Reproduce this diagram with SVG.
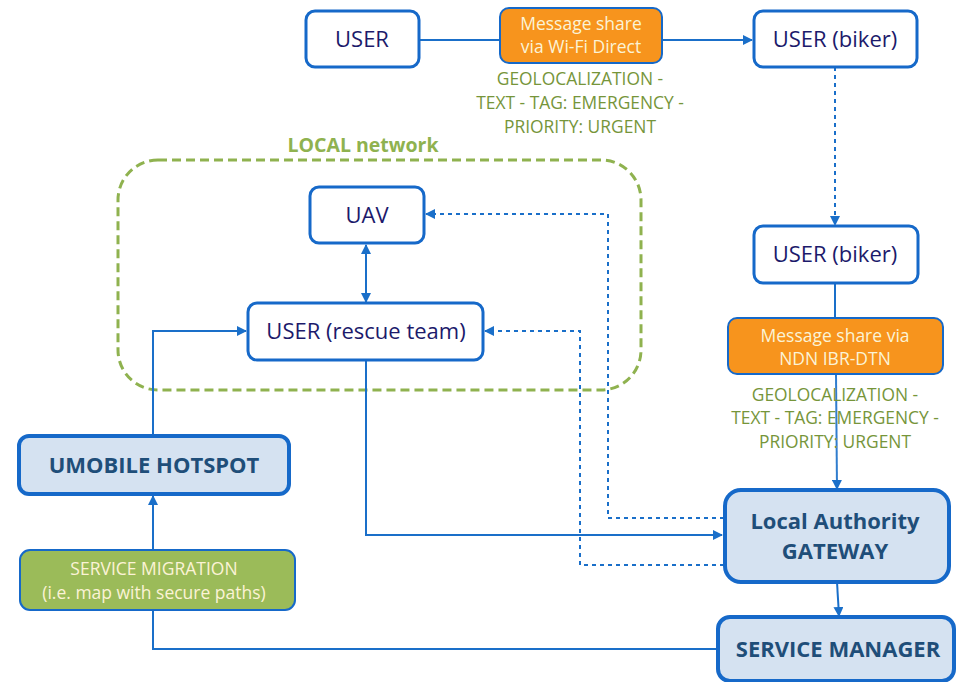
<svg xmlns="http://www.w3.org/2000/svg" width="958" height="682" viewBox="0 0 958 682">
<defs>
<marker id="ah" viewBox="0 0 10 10" refX="9" refY="5" markerWidth="5" markerHeight="5" orient="auto-start-reverse" markerUnits="strokeWidth">
<path d="M0,0 L10,5 L0,10 z" fill="#1a6fc9"/>
</marker>
<style>
.node{fill:#fff;stroke:#1669c9;stroke-width:3}
.big{fill:#d5e2f1;stroke:#1669c9;stroke-width:4}
.orange{fill:#f7941d;stroke:#1669c9;stroke-width:2}
.green{fill:#9bbb59;stroke:#1669c9;stroke-width:2}
.t{font-family:"Open Sans","Liberation Sans",sans-serif;font-size:22px;fill:#1c1a6b;text-anchor:middle}
.b{font-family:"Open Sans","Liberation Sans",sans-serif;font-size:22px;font-weight:bold;fill:#1f4e79;text-anchor:middle}
.w{font-family:"Open Sans","Liberation Sans",sans-serif;font-size:17.5px;fill:#fbf3d6;text-anchor:middle}
.g{font-family:"Open Sans","Liberation Sans",sans-serif;font-size:17.4px;fill:#76953a;text-anchor:middle}
.c{fill:none;stroke:#1a6fc9;stroke-width:2}
.d{fill:none;stroke:#1a6fc9;stroke-width:2;stroke-dasharray:4 4}
</style>
</defs>
<g id="local-network">
<rect x="118" y="160" width="523" height="230" rx="40" fill="none" stroke="#8fb24f" stroke-width="3" stroke-dasharray="9 5"/>
<text x="363" y="152" font-family="Open Sans, Liberation Sans, sans-serif" font-size="19.5" font-weight="bold" fill="#8fb24f" text-anchor="middle">LOCAL network</text>
</g>
<g id="connectors">
<line class="c" x1="420" y1="40" x2="500" y2="40"/>
<line class="c" x1="662" y1="40" x2="752" y2="40" marker-end="url(#ah)"/>
<line class="d" x1="835" y1="67" x2="835" y2="225" marker-end="url(#ah)"/>
<line class="c" x1="835" y1="283" x2="835" y2="318"/>
<line class="c" x1="836" y1="374" x2="837" y2="489" stroke-opacity="0.9" marker-end="url(#ah)"/>
<line class="c" x1="837" y1="582" x2="839" y2="616" marker-end="url(#ah)"/>
<line class="c" x1="366" y1="245" x2="366" y2="302" marker-start="url(#ah)" marker-end="url(#ah)"/>
<polyline class="d" points="724,518 608,518 608,214 426,214" marker-end="url(#ah)"/>
<polyline class="d" points="724,565 580,565 580,331 485,331" marker-end="url(#ah)"/>
<polyline class="c" points="366,360 366,535 722,535" marker-end="url(#ah)"/>
<polyline class="c" stroke="#2b8ad6" points="153,436 153,331 246,331" marker-end="url(#ah)"/>
<line class="c" stroke="#2b8ad6" x1="153" y1="550" x2="153" y2="496" marker-end="url(#ah)"/>
<polyline class="c" stroke="#2b8ad6" points="153,610 153,649 718,649"/>
</g>
<g id="user">
<rect class="node" x="306" y="11" width="113" height="56" rx="9"/>
<text class="t" x="362" y="47">USER</text>
</g>
<g id="wifi-direct">
<rect class="orange" x="500" y="8" width="162" height="55" rx="9"/>
<text class="w" x="581" y="30">Message share</text>
<text class="w" x="581" y="53">via Wi-Fi Direct</text>
</g>
<g id="label-top">
<text class="g" x="580" y="85">GEOLOCALIZATION -</text>
<text class="g" x="580" y="109">TEXT - TAG: EMERGENCY -</text>
<text class="g" x="580" y="133">PRIORITY: URGENT</text>
</g>
<g id="biker1">
<rect class="node" x="754" y="11" width="163" height="56" rx="9"/>
<text class="t" x="835" y="47">USER (biker)</text>
</g>
<g id="biker2">
<rect class="node" x="754" y="226" width="164" height="57" rx="9"/>
<text class="t" x="835" y="262">USER (biker)</text>
</g>
<g id="ndn">
<rect class="orange" x="728" y="318" width="215" height="56" rx="9"/>
<text class="w" x="835" y="342">Message share via</text>
<text class="w" x="835" y="365">NDN IBR-DTN</text>
</g>
<g id="label-right">
<text class="g" x="835" y="401">GEOLOCALIZATION -</text>
<text class="g" x="835" y="424">TEXT - TAG: EMERGENCY -</text>
<text class="g" x="835" y="448">PRIORITY: URGENT</text>
</g>
<g id="uav">
<rect class="node" x="310" y="187" width="114" height="56" rx="9"/>
<text class="t" x="367" y="223">UAV</text>
</g>
<g id="rescue">
<rect class="node" x="248" y="303" width="235" height="57" rx="9"/>
<text class="t" x="366" y="339">USER (rescue team)</text>
</g>
<g id="gateway">
<rect class="big" x="725" y="490" width="224" height="92" rx="16"/>
<text class="b" x="835" y="529">Local Authority</text>
<text class="b" x="835" y="559">GATEWAY</text>
</g>
<g id="service-manager">
<rect class="big" x="718" y="617" width="236" height="64" rx="12"/>
<text class="b" x="838" y="657">SERVICE MANAGER</text>
</g>
<g id="hotspot">
<rect class="big" x="19" y="436" width="270" height="58" rx="10"/>
<text class="b" x="154" y="473">UMOBILE HOTSPOT</text>
</g>
<g id="migration">
<rect class="green" x="20" y="550" width="275" height="60" rx="10"/>
<text class="w" x="154" y="575">SERVICE MIGRATION</text>
<text class="w" x="154" y="599">(i.e. map with secure paths)</text>
</g>
</svg>
